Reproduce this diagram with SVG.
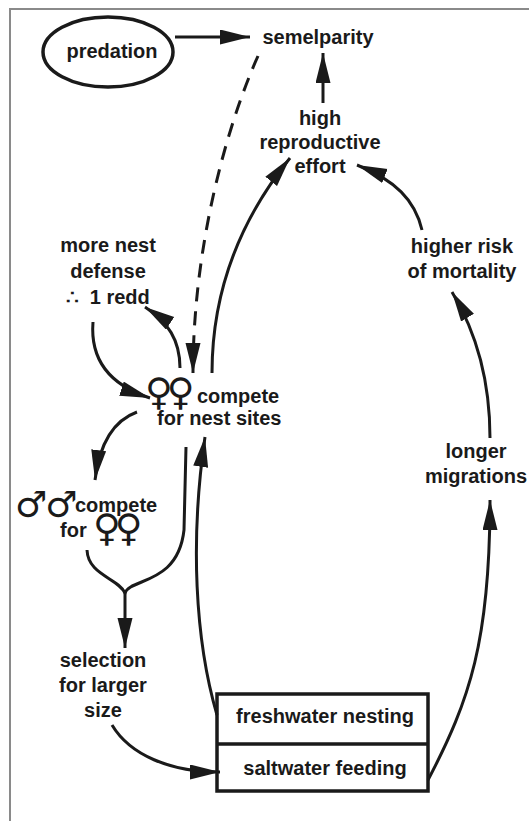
<svg xmlns="http://www.w3.org/2000/svg" width="529" height="821" viewBox="0 0 529 821">
<style>
text{font-family:"Liberation Sans",Arial,sans-serif;font-weight:bold;font-size:20px;fill:#1a1a1a}
.c{text-anchor:middle}
.sym{font-family:"DejaVu Sans",sans-serif;font-weight:bold;font-size:38px;letter-spacing:-6px}
.msym{font-family:"DejaVu Sans",sans-serif;font-weight:bold;font-size:36px;letter-spacing:-2px}
.ln{fill:none;stroke:#1a1a1a;stroke-width:3}
.arr{marker-end:url(#ah)}
.frame{stroke:#8a8a8a;stroke-width:2;fill:none}
</style>
<defs>
<marker id="ah" markerUnits="userSpaceOnUse" markerWidth="32" markerHeight="16" refX="30" refY="7.5" orient="auto">
<path d="M0,0 L30,7.5 L0,15 z" fill="#1a1a1a"/>
</marker>
</defs>
<rect width="529" height="821" fill="#fff"/>
<path class="frame" d="M10,821 L10,9 L529,9"/>
<g id="connectors">
<path class="ln arr" d="M175,37 L250,37"/>
<path class="ln arr" d="M323,103 L323,53"/>
<path class="ln arr" d="M258,56 C225,130 193,250 193,373" stroke-dasharray="14 10"/>
<path class="ln arr" d="M212,373 C212,290 240,220 290,158"/>
<path class="ln arr" d="M422,230 C415,200 395,180 357,165"/>
<path class="ln arr" d="M490,438 C490,380 475,330 452,292"/>
<path class="ln arr" d="M428,780 C470,700 490,640 490,500"/>
<path class="ln arr" d="M217,715 C195,640 190,540 205,437"/>
<path class="ln arr" d="M112,725 C130,755 170,772 220,772"/>
<path class="ln arr" d="M93,322 C90,360 110,385 150,398"/>
<path class="ln arr" d="M180,368 C180,340 168,322 145,307"/>
<path class="ln arr" d="M137,412 C115,420 100,440 95,480"/>
<path class="ln" d="M87,550 C88,575 118,578 125,593 C130,578 178,585 184,530 L186,447"/>
<path class="ln arr" d="M125,592 L125,648"/>
</g>
<g id="predation">
<ellipse cx="108" cy="52" rx="65" ry="35" fill="none" stroke="#1a1a1a" stroke-width="3.5"/>
<text class="c" x="112" y="58">predation</text>
</g>
<g id="semelparity"><text class="c" x="318" y="44">semelparity</text></g>
<g id="high-reproductive-effort">
<text class="c" x="320" y="125">high</text>
<text class="c" x="320" y="149">reproductive</text>
<text class="c" x="320" y="173">effort</text>
</g>
<g id="more-nest-defense">
<text class="c" x="108" y="252">more nest</text>
<text class="c" x="108" y="278">defense</text>
<text class="c" x="108" y="304">∴ <tspan dx="5">1 redd</tspan></text>
</g>
<g id="females-compete">
<text><tspan class="sym" x="145" y="405">♀♀</tspan><tspan x="197" y="403">compete</tspan><tspan x="157" y="425">for nest sites</tspan></text>
</g>
<g id="males-compete">
<text><tspan class="msym" x="15" y="517">♂♂</tspan><tspan x="75" y="512">compete</tspan><tspan x="60" y="537">for</tspan><tspan class="sym" x="93" y="541">♀♀</tspan></text>
</g>
<g id="selection">
<text class="c" x="103" y="667">selection</text>
<text class="c" x="103" y="692">for larger</text>
<text class="c" x="103" y="717">size</text>
</g>
<g id="higher-risk">
<text class="c" x="462" y="253">higher risk</text>
<text class="c" x="462" y="278">of mortality</text>
</g>
<g id="longer-migrations">
<text class="c" x="476" y="458">longer</text>
<text class="c" x="476" y="483">migrations</text>
</g>
<g id="habitat-box">
<rect x="217" y="694" width="211" height="97" fill="none" stroke="#1a1a1a" stroke-width="3.5"/>
<line x1="217" y1="744" x2="428" y2="744" stroke="#1a1a1a" stroke-width="3.5"/>
<text class="c" x="325" y="723">freshwater nesting</text>
<text class="c" x="325" y="775">saltwater feeding</text>
</g>
</svg>
